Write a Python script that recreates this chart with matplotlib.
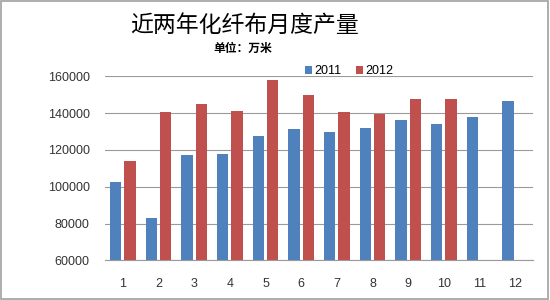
import matplotlib
matplotlib.use("Agg")
import matplotlib.pyplot as plt
import numpy as np
from matplotlib.patches import Rectangle

months = ["1", "2", "3", "4", "5", "6", "7", "8", "9", "10", "11", "12"]
y2011 = [102500, 83200, 117400, 117800, 127500, 131200, 129700, 131900, 136200, 133900, 137700, 146400]
y2012 = [114000, 140600, 145000, 141300, 158000, 150000, 140600, 139300, 147700, 147700, None, None]
yticks = [60000, 80000, 100000, 120000, 140000, 160000]

plt.rcParams["font.family"] = ["Liberation Sans", "Noto Sans CJK SC", "DejaVu Sans"]

fig = plt.figure(figsize=(5.5, 3.0), dpi=100)
ax = fig.add_axes([0.191, 0.132, 0.778, 0.614])

x = np.arange(len(months))
w = 0.32
b1 = ax.bar(x - 0.2, y2011, w, color="#4F81BD", label="2011")
x12 = [xi for xi, v in zip(x, y2012) if v is not None]
v12 = [v for v in y2012 if v is not None]
b2 = ax.bar(np.array(x12) + 0.2, v12, w, color="#C0504D", label="2012")

ax.set_xlim(-0.5, len(months) - 0.5)
ax.set_ylim(60000, 160000)
ax.set_yticks(yticks)
ax.set_yticklabels([str(v) for v in yticks], fontsize=9, color="#333333")
ax.set_xticks(x)
ax.set_xticklabels(months, fontsize=9, color="#333333")
ax.tick_params(length=0)
ax.tick_params(axis="y", pad=11)
ax.tick_params(axis="x", pad=13)
ax.grid(axis="y", color="#9a9a9a", linewidth=0.8)
ax.set_axisbelow(True)
for s in ["top", "right", "left"]:
    ax.spines[s].set_visible(False)
ax.spines["bottom"].set_color("#9a9a9a")

fig.text(0.444, 0.915, "近两年化纤布月度产量", fontsize=16.5, ha="center", va="center",
         family=["Noto Sans CJK SC"])
fig.text(0.442, 0.838, "单位：万米", fontsize=8.5, ha="center", va="center",
         fontweight="bold", family=["Noto Sans CJK SC"])

leg = fig.legend(handles=[b1, b2], loc="center", bbox_to_anchor=(0.635, 0.762), ncol=2,
                 frameon=False, fontsize=9, handlelength=0.55, handleheight=0.55,
                 handletextpad=0.2, columnspacing=1.2)

fig.add_artist(Rectangle((0.002, 0.004), 0.995, 0.992, transform=fig.transFigure,
                         fill=False, edgecolor="#a0a0a0", linewidth=1.2))

fig.savefig("out.png", dpi=100)
